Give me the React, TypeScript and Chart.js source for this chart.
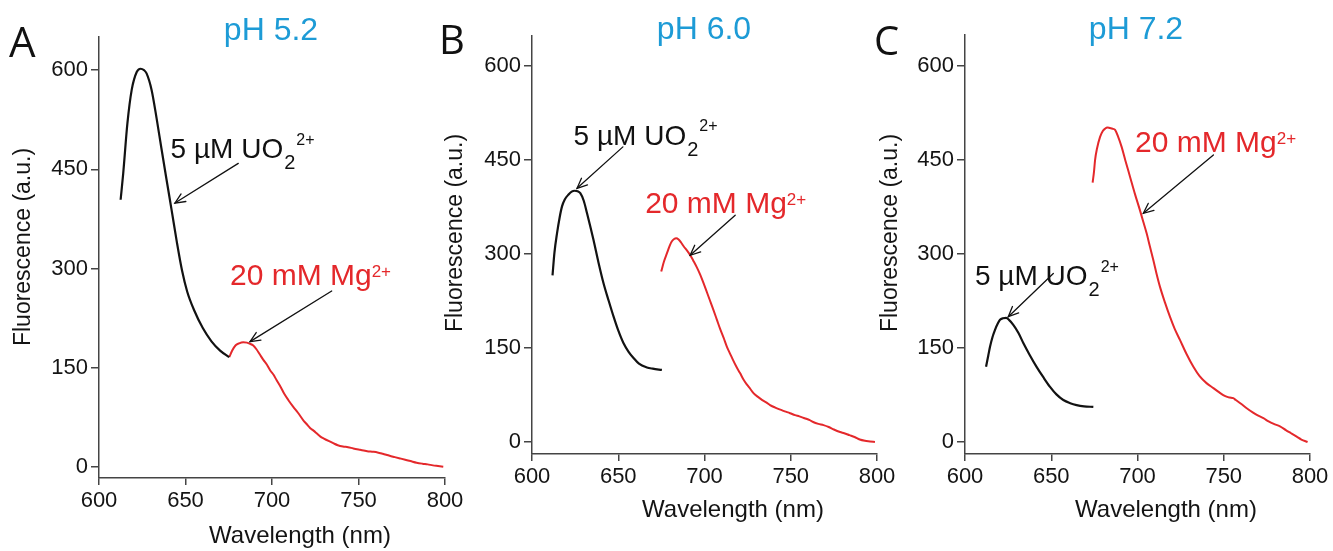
import { useEffect, useRef } from "react";
import { Chart, registerables } from "chart.js";

Chart.register(...registerables);

const W = 1333;
const H = 551;
const FONT = '"Liberation Sans", Arial, Helvetica, sans-serif';
const LETTER_FONT = '"Open Sans", "Noto Sans", sans-serif';
const AXIS = "#444444";
const TXT = "#141414";
const BLACK = "#121212";
const RED = "#e4282b";
const BLUE = "#1d9bd6";

// shared ticks
const yTicks = [0, 150, 300, 450, 600];
const xTicks = [600, 650, 700, 750, 800];

const titles = ["pH 5.2", "pH 6.0", "pH 7.2"];
const letters = ["A", "B", "C"];
const yTitle = "Fluorescence (a.u.)";
const xTitle = "Wavelength (nm)";

// Panel A (pH 5.2)
const aUoWl = [612.5, 614, 616.4, 618.9, 621.8, 624, 626, 627.5, 630.4, 633.3, 636, 639, 642, 645, 648, 651, 655, 660, 665, 670, 675.3];
const aUoF = [404, 444, 519, 570, 597, 602, 600, 595, 570, 527, 483, 435, 388, 340, 297, 265, 237, 210, 190, 176, 166];
const aMgWl = [675.3, 677, 679, 681, 683.4, 685.5, 687.5, 689, 691, 693, 695, 697, 699, 701, 702.7, 705, 707, 709.5, 712.3, 715, 718, 720, 722, 724, 725.8, 728, 730, 733, 735.4, 738, 741, 744, 747, 750.9, 753, 755, 758.5, 761, 764, 768, 771, 774, 777, 780, 783.6, 787, 790, 793, 796, 799];
const aMgF = [166, 176, 184, 187, 188.5, 188, 186, 184, 178, 170, 162, 155, 146, 139, 131, 121, 111, 101, 91, 82, 71, 65, 59, 55, 51, 46, 43, 39, 36, 33, 31, 30, 28, 26, 25, 24, 23, 22, 20, 17, 15, 13, 11, 9, 6.5, 5, 4, 2.5, 1.5, 0.5];

// Panel B (pH 6.0)
const bUoWl = [611.9, 613, 614.5, 616, 617.4, 619, 621.2, 623, 624.7, 626.5, 628, 630, 631.9, 633.8, 635.7, 638.5, 641.5, 644.5, 647.3, 650, 653, 656, 658.9, 662, 666.6, 670, 675.3];
const bUoF = [266, 302, 333, 358, 376, 387, 395, 399.5, 401, 400, 397, 385, 365, 344, 322, 287, 253, 225, 200, 178, 158, 144, 134, 125, 119, 117, 115];
const bMgWl = [674.9, 676.5, 678.2, 679.8, 681, 682.4, 683.6, 685, 686.5, 688, 690, 692, 693.6, 695.5, 697.5, 699.5, 701.4, 703, 705, 707.2, 709, 711, 713, 715, 716.5, 718.5, 720.6, 722.5, 724.5, 726.5, 728.4, 731, 733.5, 736, 738, 741, 743.5, 746.5, 749.6, 752.5, 755, 758, 761, 763, 766, 769, 772, 775, 778.6, 781, 784, 787, 790, 793, 796, 798.8];
const bMgF = [272, 288, 301, 313, 320, 324, 325, 323, 318, 312, 305, 297, 289, 279, 267, 253, 239, 227, 212, 195, 181, 167, 152, 140, 131, 120, 110, 100, 92, 85, 78, 72, 67, 63, 59, 55, 52, 49, 46, 43, 41, 38, 35, 32, 29, 27, 24, 20, 16, 14, 11, 8, 4, 2, 1, 0];

// Panel C (pH 7.2)
const cUoWl = [612.2, 613.5, 614.5, 616, 617.4, 619, 620.3, 622, 623.8, 625.5, 628, 631, 633.8, 637.5, 641.5, 645.5, 649.3, 653, 657, 661, 664.7, 669, 674.4];
const cUoF = [120, 138, 152, 168, 179, 189, 195, 197.5, 198, 195, 187, 174, 158, 139, 120, 103, 88, 76, 67, 62, 59, 57, 56];
const cMgWl = [674, 674.8, 675.4, 676.5, 678.3, 679.8, 681.2, 682.5, 684, 685.5, 687, 688.8, 690.8, 693, 695.7, 698.5, 701.4, 703.3, 705.3, 707.2, 709.2, 711, 713, 716, 718.8, 721.5, 724.6, 728.5, 732.4, 736, 740, 744, 747, 749.7, 752, 753.5, 755.5, 757, 760, 763.3, 767, 770, 773, 776, 779, 782.6, 786, 789, 792.3, 795, 798.6];
const cMgF = [414, 432, 450, 468, 487, 496, 500, 502, 501, 500, 498, 487, 471, 449, 423, 396, 370, 352, 333, 312, 290, 269, 248, 222, 200, 181, 163, 140, 120, 105, 94, 86, 80, 75, 72, 71, 70, 67, 61, 54, 47, 42, 38, 33, 29, 25, 19, 14, 8.5, 4, 0];

type Pt = [number, number];
type Note = { at: Pt; from: Pt; tip: Pt };
type Panel = {
  idx: number;
  uo: [number[], number[]];
  mg: [number[], number[]];
  area: { left: number; right: number; top: number; bottom: number };
  yMin: number;
  yMax: number;
  letterPos: Pt;
  letterSize: number;
  titlePos: Pt;
  yTitlePos: Pt;
  xTitlePos: Pt;
  uoNote: Note;
  mgNote: Note;
};

const panels: Panel[] = [
  {
    idx: 0,
    uo: [aUoWl, aUoF],
    mg: [aMgWl, aMgF],
    area: { left: 99, right: 445, top: 37, bottom: 478 },
    yMin: -16.6,
    yMax: 650,
    letterPos: [9, 57],
    letterSize: 42,
    titlePos: [271, 40],
    yTitlePos: [24, 247],
    xTitlePos: [300, 543],
    uoNote: { at: [641.4, 466.5], from: [680.5, 459], tip: [643.9, 399] },
    mgNote: { at: [675.7, 275], from: [734.5, 266], tip: [687.3, 189.5] },
  },
  {
    idx: 1,
    uo: [bUoWl, bUoF],
    mg: [bMgWl, bMgF],
    area: { left: 532, right: 877, top: 36, bottom: 454 },
    yMin: -19.1,
    yMax: 647.9,
    letterPos: [439, 54],
    letterSize: 40,
    titlePos: [704, 39],
    yTitlePos: [456, 233],
    xTitlePos: [733, 517],
    uoNote: { at: [624.1, 474], from: [652.7, 471], tip: [626.1, 404.8] },
    mgNote: { at: [665.6, 365], from: [717.8, 362], tip: [691.7, 298] },
  },
  {
    idx: 2,
    uo: [cUoWl, cUoF],
    mg: [cMgWl, cMgF],
    area: { left: 965, right: 1310, top: 35, bottom: 454 },
    yMin: -19.1,
    yMax: 649.5,
    letterPos: [874, 55],
    letterSize: 40,
    titlePos: [1136, 39],
    yTitlePos: [891, 233],
    xTitlePos: [1166, 517],
    uoNote: { at: [605.8, 250.5], from: [651.2, 269], tip: [625.1, 200] },
    mgNote: { at: [698.6, 463], from: [744, 458], tip: [703.4, 365] },
  },
];

type Part = { text: string; size: number; dx?: number; dy?: number };

function drawRich(ctx: CanvasRenderingContext2D, parts: Part[], x: number, y: number, color: string) {
  let cx = x;
  ctx.fillStyle = color;
  ctx.textAlign = "left";
  ctx.textBaseline = "alphabetic";
  for (const p of parts) {
    ctx.font = `${p.size}px ${FONT}`;
    cx += p.dx || 0;
    ctx.fillText(p.text, cx, y + (p.dy || 0));
    cx += ctx.measureText(p.text).width;
  }
}

function drawArrow(ctx: CanvasRenderingContext2D, x1: number, y1: number, x2: number, y2: number) {
  ctx.save();
  ctx.strokeStyle = "#111";
  ctx.lineWidth = 1.3;
  ctx.lineCap = "round";
  ctx.beginPath();
  ctx.moveTo(x1, y1);
  ctx.lineTo(x2, y2);
  ctx.stroke();
  const ang = Math.atan2(y2 - y1, x2 - x1);
  const L = 11;
  const a = 0.42;
  ctx.beginPath();
  ctx.moveTo(x2 - L * Math.cos(ang - a), y2 - L * Math.sin(ang - a));
  ctx.lineTo(x2, y2);
  ctx.lineTo(x2 - L * Math.cos(ang + a), y2 - L * Math.sin(ang + a));
  ctx.stroke();
  ctx.restore();
}

const uoParts: Part[] = [
  { text: "5 \u00b5M UO", size: 28 },
  { text: "2", size: 20, dx: 1, dy: 11 },
  { text: "2+", size: 16, dx: 1, dy: -13.5 },
];
const mgParts: Part[] = [
  { text: "20 mM Mg", size: 30 },
  { text: "2+", size: 17, dx: 0, dy: -8 },
];

function makeOverlay(p: Panel) {
  return {
    id: "overlay" + p.idx,
    afterDraw(chart: any) {
      const ctx: CanvasRenderingContext2D = chart.ctx;
      const xs = chart.scales.x;
      const ys = chart.scales.y;
      const px = (pt: Pt): Pt => [xs.getPixelForValue(pt[0]), ys.getPixelForValue(pt[1])];
      ctx.save();
      // panel letter
      ctx.fillStyle = "#111";
      ctx.font = `${p.letterSize}px ${LETTER_FONT}`;
      ctx.textAlign = "left";
      ctx.textBaseline = "alphabetic";
      ctx.fillText(letters[p.idx], p.letterPos[0], p.letterPos[1]);
      // title
      ctx.fillStyle = BLUE;
      ctx.font = `32px ${FONT}`;
      ctx.textAlign = "center";
      ctx.fillText(titles[p.idx], p.titlePos[0], p.titlePos[1]);
      // axis titles
      ctx.fillStyle = TXT;
      ctx.font = `24px ${FONT}`;
      ctx.textAlign = "center";
      ctx.fillText(xTitle, p.xTitlePos[0], p.xTitlePos[1]);
      ctx.save();
      ctx.translate(p.yTitlePos[0], p.yTitlePos[1]);
      ctx.rotate(-Math.PI / 2);
      ctx.font = `23px ${FONT}`;
      ctx.textBaseline = "middle";
      ctx.fillText(yTitle, 0, 0);
      ctx.restore();
      // annotations
      const u = px(p.uoNote.at);
      drawRich(ctx, uoParts, u[0], u[1], "#111");
      const uf = px(p.uoNote.from);
      const ut = px(p.uoNote.tip);
      drawArrow(ctx, uf[0], uf[1], ut[0], ut[1]);
      const m = px(p.mgNote.at);
      drawRich(ctx, mgParts, m[0], m[1], RED);
      const mf = px(p.mgNote.from);
      const mt = px(p.mgNote.tip);
      drawArrow(ctx, mf[0], mf[1], mt[0], mt[1]);
      ctx.restore();
    },
  };
}

const YW = 60;
const XH = 40;

function toPoints(wl: number[], f: number[]) {
  return wl.map((x, i) => ({ x, y: f[i] }));
}

function PanelChart({ p }: { p: Panel }) {
  const ref = useRef<HTMLCanvasElement | null>(null);
  useEffect(() => {
    if (!ref.current) return;
    const axisCommon = {
      grid: { display: true, drawOnChartArea: false, drawTicks: true, color: AXIS, lineWidth: 1.5 },
      border: { display: true, color: AXIS, width: 1.5 },
    };
    const chart = new Chart(ref.current, {
      type: "line",
      data: {
        datasets: [
          {
            data: toPoints(p.uo[0], p.uo[1]),
            borderColor: BLACK,
            borderWidth: 2.2,
            pointRadius: 0,
            cubicInterpolationMode: "monotone",
            fill: false,
          },
          {
            data: toPoints(p.mg[0], p.mg[1]),
            borderColor: RED,
            borderWidth: 2,
            pointRadius: 0,
            cubicInterpolationMode: "monotone",
            fill: false,
          },
        ],
      },
      options: {
        responsive: false,
        animation: false,
        devicePixelRatio: 1,
        events: [],
        layout: {
          padding: {
            left: p.area.left - YW,
            right: W - p.area.right,
            top: p.area.top,
            bottom: H - p.area.bottom - XH,
          },
        },
        plugins: {
          legend: { display: false },
          tooltip: { enabled: false },
          title: { display: false },
        },
        scales: {
          x: {
            type: "linear",
            min: 600,
            max: 800,
            afterBuildTicks: (s: any) => {
              s.ticks = xTicks.map((v) => ({ value: v }));
            },
            afterFit: (s: any) => {
              s.height = XH;
            },
            grid: { ...axisCommon.grid, tickLength: 7 },
            border: axisCommon.border,
            ticks: {
              color: TXT,
              font: { family: FONT, size: 22 },
              padding: 3,
              maxRotation: 0,
              autoSkip: false,
            },
          },
          y: {
            type: "linear",
            min: p.yMin,
            max: p.yMax,
            afterBuildTicks: (s: any) => {
              s.ticks = yTicks.map((v) => ({ value: v }));
            },
            afterFit: (s: any) => {
              s.width = YW;
            },
            grid: { ...axisCommon.grid, tickLength: 8 },
            border: axisCommon.border,
            ticks: {
              color: TXT,
              font: { family: FONT, size: 22 },
              padding: 3,
              autoSkip: false,
            },
          },
        },
      },
      plugins: [makeOverlay(p)],
    } as any);
    return () => chart.destroy();
  }, [p]);
  return (
    <canvas
      ref={ref}
      width={W}
      height={H}
      style={{ position: "absolute", left: 0, top: 0, width: W, height: H }}
    />
  );
}

export default function App() {
  return (
    <div style={{ position: "absolute", left: 0, top: 0, width: W, height: H, background: "#fff", overflow: "hidden" }}>
      {panels.map((p) => (
        <PanelChart key={p.idx} p={p} />
      ))}
    </div>
  );
}
